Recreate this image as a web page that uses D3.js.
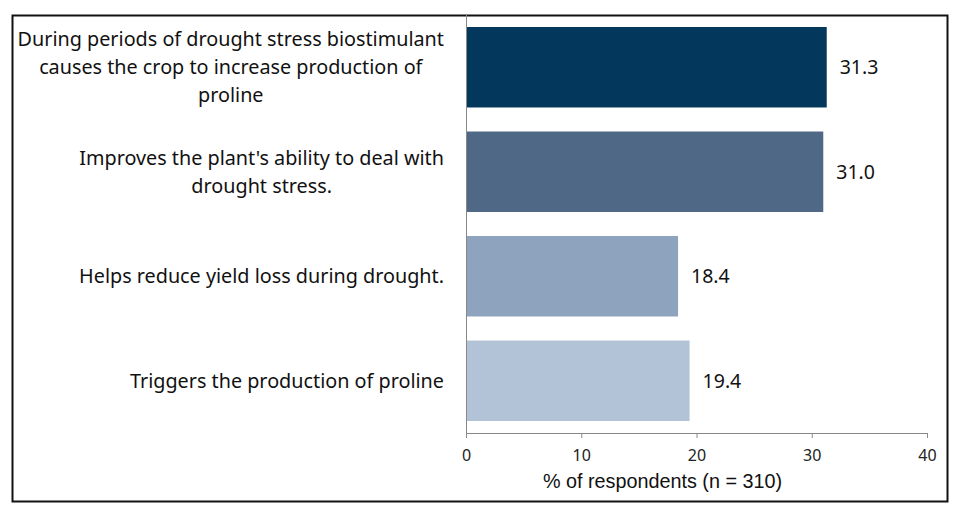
<!DOCTYPE html>
<html>
<head>
<meta charset="utf-8">
<script src="https://cdn.jsdelivr.net/npm/d3@7"></script>
<style>
  body { margin: 0; background: #fff; }
  svg { display: block; }
</style>
</head>
<body>
<div id="wrapper"></div>
<script>
const categories = [
  "During periods of drought stress biostimulant|causes the crop to increase production of|proline",
  "Improves the plant's ability to deal with|drought stress.",
  "Helps reduce yield loss during drought.",
  "Triggers the production of proline"
]
const values = [31.3, 31.0, 18.4, 19.4]
const barColors = ["#03385c", "#4f6885", "#8ea4be", "#b3c3d7"]
const xTicks = [0, 10, 20, 30, 40]

function drawBars() {
  const dms = {
    width: 960,
    height: 514,
    margin: { top: 15, right: 33, bottom: 81, left: 466 },
  }
  dms.boundedWidth = dms.width - dms.margin.left - dms.margin.right
  dms.boundedHeight = dms.height - dms.margin.top - dms.margin.bottom

  const font = "'Noto Sans', 'Open Sans', sans-serif"

  const wrapper = d3.select("#wrapper")
    .append("svg")
    .attr("width", dms.width)
    .attr("height", dms.height)
    .style("font-family", font)

  // outer frame
  wrapper.append("rect")
    .attr("x", 12.5)
    .attr("y", 15.5)
    .attr("width", 935)
    .attr("height", 486)
    .attr("fill", "none")
    .attr("stroke", "#111")
    .attr("stroke-width", 2)

  const bounds = wrapper.append("g")
    .attr("transform", `translate(${dms.margin.left},${dms.margin.top})`)

  const xScale = d3.scaleLinear()
    .domain([0, 40])
    .range([0, dms.boundedWidth])

  const yScale = d3.scaleBand()
    .domain(categories)
    .range([0, dms.boundedHeight])
    .paddingInner(0.23)
    .paddingOuter(0.115)

  bounds.selectAll("rect.bar")
    .data(values)
    .join("rect")
    .attr("class", "bar")
    .attr("x", xScale(0) + 1)
    .attr("y", (d, i) => yScale(categories[i]))
    .attr("width", d => xScale(d) - xScale(0) - 1)
    .attr("height", yScale.bandwidth())
    .attr("fill", (d, i) => barColors[i])

  bounds.selectAll("text.value")
    .data(values)
    .join("text")
    .attr("class", "value")
    .attr("x", d => xScale(d) + 13)
    .attr("y", (d, i) => yScale(categories[i]) + yScale.bandwidth() / 2)
    .attr("dy", "0.35em")
    .attr("fill", "#111")
    .style("font-size", "19.5px")
    .text(d => d.toFixed(1))

  // x axis
  const xAxisGenerator = d3.axisBottom()
    .scale(xScale)
    .tickValues(xTicks)
    .tickSize(5)
    .tickSizeOuter(0)

  const xAxis = bounds.append("g")
    .attr("transform", `translate(0,${dms.boundedHeight})`)
    .call(xAxisGenerator)
  xAxis.select(".domain").attr("stroke", "#888")
  xAxis.selectAll(".tick line").attr("stroke", "#888")
  xAxis.selectAll(".tick text")
    .attr("y", 17)
    .attr("fill", "#222")
    .style("font-family", font)
    .style("font-size", "16px")

  xAxis.append("text")
    .attr("x", dms.boundedWidth / 2 - 34)
    .attr("y", 55)
    .attr("fill", "#111")
    .style("font-size", "19.8px")
    .style("text-anchor", "middle")
    .text("% of respondents (n = 310)")

  // y axis line
  bounds.append("line")
    .attr("x1", 0.5).attr("x2", 0.5)
    .attr("y1", 0).attr("y2", dms.boundedHeight)
    .attr("stroke", "#888")

  // category labels: block right-aligned, lines centred within block
  const labelRight = -22
  const lineH = 28
  categories.forEach(cat => {
    const lines = cat.split("|")
    const g = bounds.append("g")
    const texts = lines.map(l => g.append("text")
      .attr("fill", "#111")
      .style("font-size", "19.8px")
      .style("text-anchor", "middle")
      .attr("dy", "0.35em")
      .text(l))
    const maxW = d3.max(texts, t => t.node().getComputedTextLength())
    const cy = yScale(cat) + yScale.bandwidth() / 2
    texts.forEach((t, i) => {
      t.attr("x", labelRight - maxW / 2)
        .attr("y", cy + (i - (lines.length - 1) / 2) * lineH)
    })
  })
}

drawBars()
</script>
</body>
</html>
